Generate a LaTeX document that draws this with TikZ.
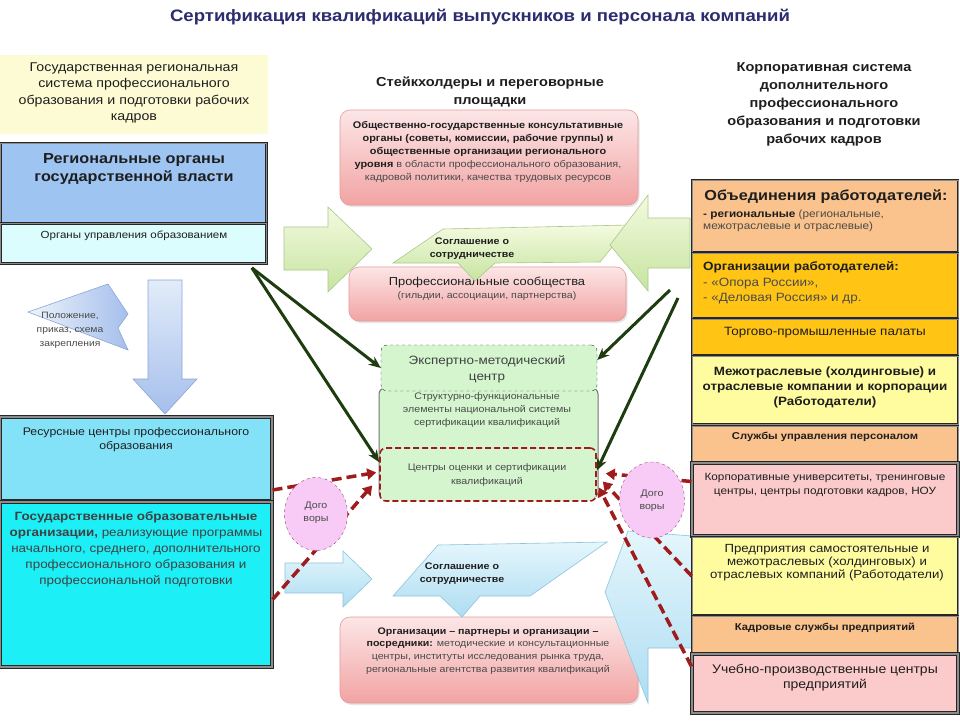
\documentclass[tikz,border=0pt]{standalone}
\usepackage{graphicx}
\usepackage{fontspec}
\setmainfont{Liberation Sans}[FakeStretch=1.12]
\usetikzlibrary{shapes.geometric,arrows.meta,calc,shadows}
\newcommand{\myfs}[2]{\fontsize{#1}{#2}\selectfont}
\definecolor{ttl}{HTML}{2B2D6E}
\definecolor{txt}{HTML}{1E1E1E}
\definecolor{gtx}{HTML}{4A4A4A}
\definecolor{yelbg}{HTML}{FDFBD4}
\definecolor{regbl}{HTML}{9EC4F2}
\definecolor{ltcy}{HTML}{DCFDFD}
\definecolor{rescy}{HTML}{84E2F8}
\definecolor{goscy}{HTML}{1CF0F6}
\definecolor{pinkT}{HTML}{FCE6E6}
\definecolor{pinkB}{HTML}{F2A3A3}
\definecolor{pinkD}{HTML}{E39A9A}
\definecolor{grbox}{HTML}{D4F5CE}
\definecolor{grT}{HTML}{F4FADF}
\definecolor{grB}{HTML}{C6E4A0}
\definecolor{grD}{HTML}{A9C98A}
\definecolor{blT}{HTML}{E2ECF9}
\definecolor{blB}{HTML}{A5BFEC}
\definecolor{blD}{HTML}{8AA6D8}
\definecolor{cyT}{HTML}{E4F6FC}
\definecolor{cyB}{HTML}{AEDDF2}
\definecolor{cyD}{HTML}{8FC4DC}
\definecolor{dkgr}{HTML}{1D3D10}
\definecolor{dkred}{HTML}{A01C1C}
\definecolor{dogoF}{HTML}{F8CBF6}
\definecolor{dogoD}{HTML}{9A4A7A}
\definecolor{orl}{HTML}{FAC28C}
\definecolor{gold}{HTML}{FFC414}
\definecolor{lyel}{HTML}{FFFCA0}
\definecolor{lpink}{HTML}{FBCBCB}
\tikzset{
  lbl/.style={inner sep=0pt, align=center, text=txt},
  sqbox/.style={draw=black!85, line width=0.7pt, double=black!45, double distance=0.9pt, inner sep=0pt},
  thickbox/.style={draw=black!85, line width=1.1pt, double=black!45, double distance=1.4pt, inner sep=0pt},
  pinkbox/.style={rounded corners=10pt, top color=pinkT, bottom color=pinkB, draw=pinkD, line width=0.6pt, inner sep=0pt, drop shadow={opacity=0.2, shadow xshift=1.5pt, shadow yshift=-2pt}},
  grbx/.style={rounded corners=6pt, fill=grbox, inner sep=0pt},
  garrow/.style={draw=dkgr, line width=3pt, -{Stealth[length=12pt,width=10pt]}},
  rarrow/.style={draw=dkred, line width=3.5pt, dash pattern=on 10pt off 5pt, -{Triangle[length=9pt,width=11pt]}},
  dogo/.style={ellipse, draw=dogoD, dashed, fill=dogoF, inner sep=0pt},
  grshape/.style={draw=grD, top color=grT, bottom color=grB, line width=0.6pt},
  blshape/.style={draw=blD, top color=blT, bottom color=blB, line width=0.6pt},
  cyshape/.style={draw=cyD, top color=cyT, bottom color=cyB, line width=0.6pt},
}
\begin{document}
\begin{tikzpicture}[x=1pt,y=-1pt]
\useasboundingbox (0,0) rectangle (960,720);
\fill[white] (0,0) rectangle (960,720);

% title
\node[lbl, text=ttl, font=\myfs{16.6}{19}\bfseries] (title) at (480,17) {Сертификация квалификаций выпускников и персонала компаний};

% ---------- left column
\node[inner sep=0pt, fill=yelbg, minimum width=268, minimum height=79] (lhdrbox) at (134,94.5) {};
\node[lbl, font=\myfs{12.7}{16.5}] (lhdr) at (134,93) {Государственная  региональная\\система профессионального\\образования и подготовки рабочих\\кадров};

\node[sqbox, fill=regbl, minimum width=266, minimum height=80] (reg) at (133.5,183) {};
\node[lbl, font=\myfs{14.5}{18.5}\bfseries] (regt) at (134,169) {Региональные органы\\государственной власти};

\node[sqbox, fill=ltcy, minimum width=266, minimum height=40] (org) at (133.5,243.5) {};
\node[lbl, font=\myfs{10.3}{12}] (orgt) at (134,236) {Органы управления образованием};

% callout "Положение"
\draw[blD, left color=blT!60!white, right color=blB, line width=0.6pt] (28,312) -- (108,284) -- (128,314) -- (118,328) -- (128,350) -- cycle;
\node[lbl, font=\myfs{9.2}{14}, text=gtx] (pol) at (70,330) {Положение,\\приказ, схема\\закрепления};

% down arrow
\draw[blshape] (148,280) -- (182,280) -- (182,379) -- (197,379) -- (165,414) -- (133,379) -- (148,379) -- cycle;

\node[thickbox, fill=rescy, minimum width=272, minimum height=84] (res) at (136,459) {};
\node[lbl, font=\myfs{11}{14}] (rest) at (136,440) {Ресурсные центры профессионального\\образования};

\node[thickbox, fill=goscy, minimum width=272, minimum height=165] (gos) at (136,584.5) {};
\node[lbl, font=\myfs{12}{16}, text=txt!85] (gost) at (136,549) {\textbf{Государственные  образовательные}\\\textbf{организации,} реализующие программы\\начального, среднего, дополнительного\\профессионального образования и\\профессиональной подготовки};

% ---------- middle
\node[lbl, font=\myfs{13}{18}\bfseries] (midhdr) at (490,92) {Стейкхолдеры и переговорные\\площадки};

\node[pinkbox, minimum width=298, minimum height=95] (pk1) at (489,157.5) {};
\node[lbl, font=\myfs{9.7}{13.2}] (pk1t) at (488,152) {\textbf{Общественно-государственные консультативные}\\\textbf{органы (советы, комиссии, рабочие группы) и}\\\textbf{общественные организации регионального}\\\textbf{уровня} {\color{gtx}в области профессионального образования,}\\{\color{gtx}кадровой политики, качества трудовых ресурсов}};

\node[pinkbox, minimum width=277, minimum height=54] (prof) at (487.5,294) {};
\node[lbl, font=\myfs{11.5}{14}] (proft) at (487,282) {Профессиональные сообщества};
\node[lbl, font=\myfs{9.5}{11}, text=gtx] (profs) at (487,296) {(гильдии, ассоциации, партнерства)};

% green callout
\draw[grshape] (393,263) -- (443,229) -- (630,225) -- (600,262) -- (495,263) -- (475,281) -- (458,263) -- cycle;
\node[lbl, font=\myfs{9.5}{13}\bfseries] (agr1) at (472,248.5) {Соглашение о\\сотрудничестве};

% green big arrows
\draw[grshape] (284,227) -- (328,227) -- (328,207) -- (372,249) -- (328,292) -- (328,270) -- (284,270) -- cycle;
\draw[grshape] (690,218) -- (648,218) -- (648,195) -- (610,245) -- (648,291) -- (648,268) -- (690,268) -- cycle;

% center stack
\node[grbx, draw=black!55, line width=1pt, minimum width=219, minimum height=110] (struct) at (488.5,443) {};
\node[grbx, draw=black!80, dashed, minimum width=216, minimum height=46] (expert) at (489,368) {};
\node[grbx, draw=dkred, dash pattern=on 6pt off 3pt, line width=1.6pt, minimum width=216, minimum height=53] (cert) at (488,474.5) {};
\node[lbl, font=\myfs{12}{16}, text=txt!85] (expt) at (487,369) {Экспертно-методический\\центр};
\node[lbl, font=\myfs{9.5}{13}, text=gtx] (structt) at (487,410) {Структурно-функциональные\\элементы национальной системы\\сертификации квалификаций};
\node[lbl, font=\myfs{9.5}{13.5}, text=gtx] (certt) at (487,475) {Центры оценки и сертификации\\квалификаций};

% lower middle
\node[pinkbox, minimum width=298, minimum height=86] (part) at (489,660) {};
\node[lbl, font=\myfs{9.5}{12.8}] (partt) at (488,651) {\textbf{Организации -- партнеры и организации --}\\\textbf{посредники:} {\color{gtx}методические и консультационные}\\{\color{gtx}центры, институты исследования рынка труда,}\\{\color{gtx}региональные агентства развития квалификаций}};

\draw[cyshape] (285,563) -- (343,563) -- (343,551) -- (372,579) -- (343,607) -- (343,593) -- (285,593) -- cycle;
\draw[cyshape] (393,596) -- (438,545) -- (607,542) -- (530,596) -- (480,596) -- (462,617) -- (440,596) -- cycle;
\node[lbl, font=\myfs{9.5}{13}\bfseries] (agr2) at (462,573.5) {Соглашение о\\сотрудничестве};

% big light blue arrow bottom right
\draw[cyshape] (648,703) -- (605,592) -- (628,531) -- (692,536) -- (692,648) -- (648,648) -- cycle;

% ---------- right column
\node[lbl, font=\myfs{13}{18}\bfseries] (rhdr) at (824,104) {Корпоративная система\\дополнительного\\профессионального\\образования и подготовки\\рабочих кадров};

\node[sqbox, fill=orl, minimum width=266, minimum height=72] (ob) at (825,216) {};
\node[lbl, font=\myfs{14.5}{17}\bfseries] (obt) at (826,197) {Объединения работодателей:};
\node[lbl, anchor=west, align=left, font=\myfs{10.5}{12.5}] (obs) at (703,221) {\textbf{- региональные} {\color{gtx}(региональные,}\\{\color{gtx}межотраслевые и отраслевые)}};

\node[sqbox, fill=gold, minimum width=266, minimum height=65] (orgr) at (825,285.5) {};
\node[lbl, anchor=west, align=left, font=\myfs{12}{15.5}] (orgrt) at (703,283) {\textbf{Организации  работодателей:}\\{\color{gtx}- «Опора России»,}\\{\color{gtx}- «Деловая Россия» и др.}};

\node[sqbox, fill=gold, minimum width=266, minimum height=36] (tpp) at (825,337) {};
\node[lbl, font=\myfs{12}{14}] (tppt) at (825,333) {Торгово-промышленные  палаты};

\node[sqbox, fill=lyel, minimum width=266, minimum height=68] (mezh) at (825,390) {};
\node[lbl, font=\myfs{12}{15}\bfseries] (mezht) at (825,387) {Межотраслевые  (холдинговые)  и\\отраслевые  компании и корпорации\\(Работодатели)};

\node[sqbox, fill=orl, minimum width=266, minimum height=36] (sl) at (825,444) {};
\node[lbl, font=\myfs{10}{12}\bfseries] (slt) at (825,437) {Службы управления персоналом};

\node[thickbox, fill=lpink, minimum width=266, minimum height=73] (korp) at (825,499.5) {};
\node[lbl, font=\myfs{10.5}{13.5}] (korpt) at (825,485) {Корпоративные университеты, тренинговые\\центры, центры подготовки кадров, НОУ};

\node[sqbox, fill=lyel, minimum width=266, minimum height=78] (pred) at (825,576) {};
\node[lbl, font=\myfs{11.8}{13}] (predt) at (827,563) {Предприятия самостоятельные и\\межотраслевых (холдинговых) и\\отраслевых  компаний (Работодатели)};

\node[sqbox, fill=orl, minimum width=266, minimum height=37] (kadr) at (825,634.5) {};
\node[lbl, font=\myfs{10}{12}\bfseries] (kadrt) at (825,628) {Кадровые службы предприятий};

\node[thickbox, fill=lpink, minimum width=266, minimum height=59] (uch) at (825,683.5) {};
\node[lbl, font=\myfs{12.5}{15}] (ucht) at (825,677.5) {Учебно-производственные  центры\\предприятий};

% ---------- connectors
\coordinate (gL) at ($(org.south east)+(-15,4)$);
\coordinate (gR1) at (670,290);
\coordinate (gR2) at (678,298);
\draw[garrow] (gL) -- (expert.west);
\draw[garrow] (gL) -- ($(cert.north west)+(0,15)$);
\draw[garrow] (gR1) -- ($(expert.east)+(0,-8)$);
\draw[garrow] (gR2) -- ($(cert.east)+(0,-4)$);

\draw[rarrow] ($(res.east)+(0,31)$) -- ($(cert.west)+(-3,-2)$);
\draw[rarrow] ($(gos.east)+(0,15)$) -- ($(cert.west)+(-7,11)$);
\draw[rarrow] ($(korp.west)+(0,-18)$) -- ($(cert.east)+(9,-1)$);
\draw[rarrow] (pred.west) -- ($(cert.east)+(6,7)$);
\draw[rarrow] ($(uch.north west)+(0,13)$) -- ($(cert.east)+(2,13)$);

% contracts
\node[dogo, minimum width=63, minimum height=73] (dogoL) at (316,514) {};
\node[lbl, font=\myfs{9.5}{13}, text=gtx] (dogoLt) at (316,513) {Дого\\воры};
\node[dogo, minimum width=65, minimum height=76] (dogoR) at (652,500) {};
\node[lbl, font=\myfs{9.5}{13}, text=gtx] (dogoRt) at (652,501) {Дого\\воры};
\end{tikzpicture}
\end{document}
